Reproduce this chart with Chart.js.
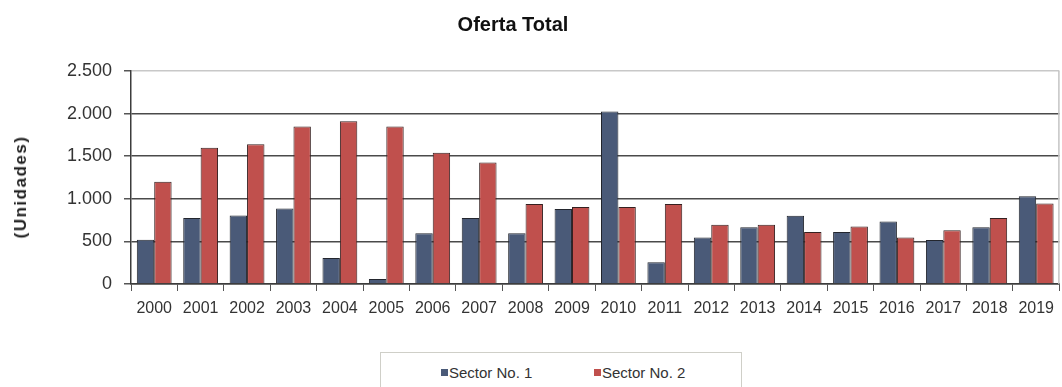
<!DOCTYPE html>
<html>
<head>
<meta charset="utf-8">
<script src="https://cdn.jsdelivr.net/npm/chart.js@4/dist/chart.umd.min.js"></script>
<style>
  html, body { margin: 0; padding: 0; background: #fff; }
  #wrap { position: relative; width: 1062px; height: 387px; overflow: hidden;
          font-family: "Liberation Sans", Arial, sans-serif; }
  #chart { position: absolute; left: 0; top: 0; }
  #title { position: absolute; left: 0; width: 1026px; top: 13px; line-height: 22px;
           text-align: center; font-weight: bold; font-size: 20px; color: #111; }
  #ytitle { position: absolute; left: 20.5px; top: 187px; width: 0; height: 0; }
  #ytitle span { position: absolute; left: 0; top: 0; transform: translate(-50%, -50%) rotate(-90deg);
                 white-space: nowrap; font-weight: bold; font-size: 17px; line-height: 18px;
                 letter-spacing: 1.5px; color: #222; }
  #legend { position: absolute; left: 380px; top: 352px; width: 360px; height: 50px;
            border: 1px solid #cfcfc8; background: #fff; }
  .item { position: absolute; top: 11px; font-size: 15px; line-height: 17px; color: #333;
          display: flex; align-items: center; white-space: nowrap; }
  .swatch { width: 7px; height: 7px; margin-right: 1px; }
</style>
</head>
<body>
<div id="wrap">
  <canvas id="chart" width="1062" height="387"></canvas>
  <div id="title">Oferta Total</div>
  <div id="ytitle"><span></span></div>
  <div id="legend"></div>
</div>
<script>
// Years on the category axis
const years = ['2000','2001','2002','2003','2004','2005','2006','2007','2008','2009',
               '2010','2011','2012','2013','2014','2015','2016','2017','2018','2019'];

// Units offered per year, by sector
const sector1 = [520, 775, 805, 885, 305, 60, 595, 775, 595, 880,
                 2025, 255, 545, 665, 800, 610, 735, 515, 665, 1030];
const sector2 = [1200, 1600, 1640, 1850, 1910, 1850, 1540, 1425, 940, 905,
                 905, 940, 695, 695, 610, 675, 545, 630, 775, 945];

const seriesNames = ['Sector No. 1', 'Sector No. 2'];

// Value-axis labels (thousands separated with a dot)
const yTickValues = [0, 500, 1000, 1500, 2000, 2500];
const yTickLabels = ['0', '500', '1.000', '1.500', '2.000', '2.500'];

const yTitle = '(Unidades)';

const colors = ['#4a5a78', '#c0504d'];
const FONT = '"Liberation Sans", Arial, sans-serif';

// Light frame line on the right edge of the plot
const plotFrame = {
  id: 'plotFrame',
  afterDraw(chart) {
    const { ctx, chartArea: a } = chart;
    ctx.save();
    ctx.strokeStyle = '#c4c4c4';
    ctx.lineWidth = 1.5;
    ctx.beginPath();
    ctx.moveTo(a.right - 0.5, a.top);
    ctx.lineTo(a.right - 0.5, a.bottom);
    ctx.stroke();
    ctx.restore();
  }
};

const chart = new Chart(document.getElementById('chart'), {
  type: 'bar',
  data: {
    labels: years,
    datasets: [
      { label: seriesNames[0], data: sector1, backgroundColor: colors[0],
        borderColor: '#23262e', borderWidth: 1 },
      { label: seriesNames[1], data: sector2, backgroundColor: colors[1],
        borderColor: '#352020', borderWidth: 1 }
    ]
  },
  options: {
    responsive: false,
    animation: false,
    layout: { padding: { top: 71, right: 1, bottom: 0, left: 0 } },
    datasets: { bar: { categoryPercentage: 0.75, barPercentage: 1.0 } },
    plugins: {
      legend: { display: false },
      title: { display: false },
      tooltip: { enabled: false }
    },
    scales: {
      x: {
        offset: true,
        afterFit(scale) { scale.height = 103; },
        grid: { display: true, drawOnChartArea: false, drawTicks: true,
                tickLength: 7, tickColor: '#555', offset: true },
        border: { display: true, color: '#3c3c3c', width: 1.5 },
        ticks: { color: '#333', padding: 8, maxRotation: 0, autoSkip: false,
                 font: { family: FONT, size: 16 } }
      },
      y: {
        min: 0,
        max: 2500,
        afterFit(scale) { scale.width = 131; },
        afterBuildTicks(scale) { scale.ticks = yTickValues.map(v => ({ value: v })); },
        grid: {
          drawTicks: true,
          tickLength: 7,
          tickColor: '#555',
          lineWidth: 1.5,
          color(ctx) {
            const v = ctx.tick && ctx.tick.value;
            if (v === 2500) return '#c8c8c8';
            return '#4a4a4a';
          }
        },
        border: { display: true, color: '#3c3c3c', width: 1.5 },
        ticks: {
          color: '#333',
          padding: 12,
          font: { family: FONT, size: 18 },
          callback(value) {
            const i = yTickValues.indexOf(value);
            return i >= 0 ? yTickLabels[i] : '';
          }
        }
      }
    }
  },
  plugins: [plotFrame]
});

// Value-axis title
document.querySelector('#ytitle span').textContent = yTitle;

// Legend built from the chart's datasets
const legendBox = document.getElementById('legend');
const itemLefts = [60, 213];
chart.data.datasets.forEach((ds, i) => {
  const item = document.createElement('div');
  item.className = 'item';
  item.style.left = itemLefts[i] + 'px';
  const sw = document.createElement('span');
  sw.className = 'swatch';
  sw.style.background = ds.backgroundColor;
  const txt = document.createElement('span');
  txt.textContent = ds.label;
  item.appendChild(sw);
  item.appendChild(txt);
  legendBox.appendChild(item);
});
</script>
</body>
</html>
